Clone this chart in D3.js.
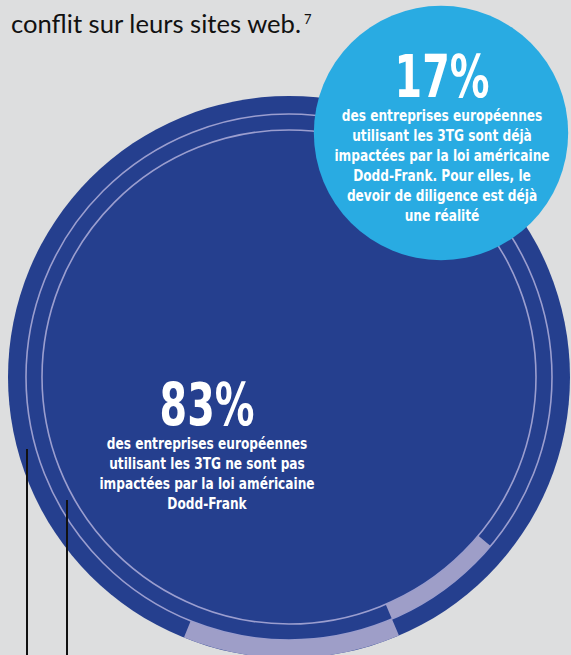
<!DOCTYPE html>
<html>
<head>
<meta charset="utf-8">
<script src="https://cdn.jsdelivr.net/npm/d3@7"></script>
<style>
  html, body { margin: 0; padding: 0; background: #dddedf; }
  svg { display: block; }
</style>
</head>
<body>
<svg id="chart" width="571" height="655"></svg>
<script>
// shares of european companies using 3TG
const shares = [83, 17];
const shareValues = ["83%", "17%"];
const shareLabels = [
    ["des entreprises européennes", "utilisant les 3TG ne sont pas", "impactées par la loi américaine", "Dodd-Frank"],
    ["des entreprises européennes", "utilisant les 3TG sont déjà", "impactées par la loi américaine", "Dodd-Frank. Pour elles, le", "devoir de diligence est  déjà", "une réalité"]
];
// highlighted parts of the rings, in percent of a full turn
const outerBand = [43.6, 56.1];
const innerBand = [36.1, 43.6];
const introText = "conflit sur leurs sites web.";
const introNote = "7";

let svg = d3.select("#chart");
let width = 571, height = 655;
let fontFamily = "'Liberation Sans Narrow', 'DejaVu Sans Condensed', sans-serif";

// circle area follows the share
let radius = d3.scaleSqrt().domain([0, d3.max(shares)]).range([0, 281]);
let angle = d3.scaleLinear().domain([0, 100]).range([0, 2 * Math.PI]);

let centers = [[289, 377], [441, 133]];
let colors = ["#253f8e", "#29abe2"];
let R = radius(shares[0]);
let line1 = R - 18, line2 = R - 34;

svg.append("rect")
    .attr("width", width)
    .attr("height", height)
    .attr("fill", "#dddedf");

// intro sentence
svg.append("text")
    .attr("x", 11)
    .attr("y", 33)
    .attr("font-family", "Lato, 'Liberation Sans', sans-serif")
    .attr("font-size", "25px")
    .attr("fill", "#111")
    .attr("textLength", 290)
    .attr("lengthAdjust", "spacingAndGlyphs")
    .text(introText);
svg.append("text")
    .attr("x", 304)
    .attr("y", 24)
    .attr("font-family", "Lato, 'Liberation Sans', sans-serif")
    .attr("font-size", "13px")
    .attr("fill", "#111")
    .text(introNote);

// big circle
let big = svg.append("g")
    .attr("transform", `translate(${centers[0][0]},${centers[0][1]})`);
big.append("circle")
    .attr("r", R)
    .attr("fill", colors[0]);
big.selectAll("circle.ring")
    .data([line1, line2])
    .enter().append("circle")
    .attr("class", "ring")
    .attr("r", d => d)
    .attr("fill", "none")
    .attr("stroke", "#9b9ecf")
    .attr("stroke-width", 1.6);

let arc = d3.arc();
big.append("path")
    .attr("d", arc({innerRadius: line1, outerRadius: R, startAngle: angle(outerBand[0]), endAngle: angle(outerBand[1])}))
    .attr("fill", "#9e9ec8");
big.append("path")
    .attr("d", arc({innerRadius: line2, outerRadius: line1, startAngle: angle(innerBand[0]), endAngle: angle(innerBand[1])}))
    .attr("fill", "#9e9ec8");

// leader lines
svg.selectAll("line.leader")
    .data([[27, 449], [67, 500]])
    .enter().append("line")
    .attr("class", "leader")
    .attr("x1", d => d[0]).attr("x2", d => d[0])
    .attr("y1", d => d[1]).attr("y2", height)
    .attr("stroke", "#111")
    .attr("stroke-width", 2);

// small circle
svg.append("circle")
    .attr("cx", centers[1][0])
    .attr("cy", centers[1][1])
    .attr("r", radius(shares[1]))
    .attr("fill", colors[1]);

// labels, squeezed to look condensed
let labelPos = [[207, 425], [442, 97]];
shareValues.forEach(function (v, i) {
    let g = svg.append("g")
        .attr("transform", `translate(${labelPos[i][0]},${labelPos[i][1]})`);
    g.append("text")
        .attr("text-anchor", "middle")
        .attr("transform", "scale(0.76,1)")
        .attr("font-family", fontFamily)
        .attr("font-weight", "bold")
        .attr("font-size", "58px")
        .attr("fill", "#fff")
        .text(v);
    g.selectAll("text.line")
        .data(shareLabels[i])
        .enter().append("text")
        .attr("class", "line")
        .attr("text-anchor", "middle")
        .attr("transform", "scale(0.82,1)")
        .attr("y", (d, j) => 24.5 + j * 20)
        .attr("font-family", fontFamily)
        .attr("font-weight", "bold")
        .attr("font-size", "16.5px")
        .attr("fill", "#fff")
        .text(d => d);
});
</script>
</body>
</html>
